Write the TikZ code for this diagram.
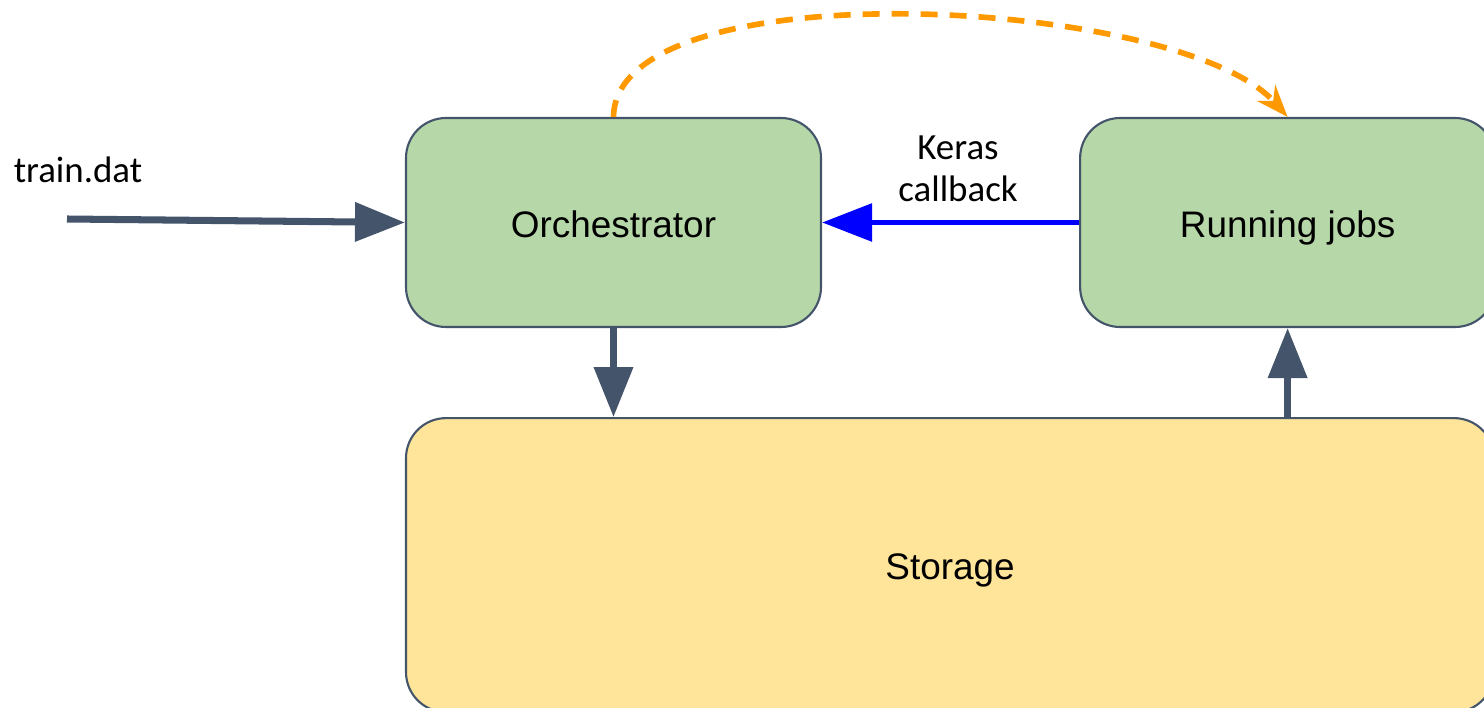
\documentclass[tikz,border=0pt]{standalone}
\usepackage{fontspec}
\setmainfont{Liberation Sans}
\newfontfamily\calfont{Carlito}
\usepackage{tikz}
\usetikzlibrary{arrows.meta,positioning}
\definecolor{slateline}{HTML}{44546A}
\definecolor{boxgreen}{HTML}{B6D7A8}
\definecolor{boxyellow}{HTML}{FFE599}
\definecolor{trigorange}{HTML}{FF9900}
\definecolor{cbblue}{HTML}{0000FF}

\begin{document}
\begin{tikzpicture}[
  every node/.style={align=center, font=\fontsize{10.5}{12}\selectfont},
  box/.style={draw=slateline, line width=0.6pt, rounded corners=0.4cm, fill=boxgreen, minimum width=4.15cm, minimum height=2.09cm, text height=10.6pt, text depth=2.2pt},
  store/.style={box, fill=boxyellow, minimum width=10.88cm, minimum height=2.94cm},
  lbl/.style={font=\calfont\fontsize{10.5}{12}\selectfont},
  flow/.style={draw=slateline, line width=2pt, -{Triangle[length=0.5cm, width=0.38cm]}},
  cb/.style={draw=cbblue, line width=1.7pt, -{Triangle[length=0.5cm, width=0.37cm]}},
  trig/.style={draw=trigorange, line width=1.6pt, dash pattern=on 0.17cm off 0.12cm, -{Stealth[length=0.32cm, width=0.24cm]}}
]
\clip (0,0) rectangle (14.84,7.07);
\node[box] (orch) at (6.135,4.845) {Orchestrator};
\node[box, right=2.57cm of orch] (jobs) {Running jobs};
\node[store, anchor=north west] (st) at ([yshift=-0.89cm]orch.south west) {Storage};

\node[lbl] (data) at (0.78,5.37) {train.dat};
\coordinate (in) at (0.67,4.88);
\draw[flow] (in) -- (orch.west);

\draw[flow] (orch.south) -- (orch.south |- st.north);
\draw[flow] (jobs.south |- st.north) -- (jobs.south);

\node[lbl] (keras) at (9.58,5.38) {Keras\\callback};
\draw[cb] (jobs.west) -- (orch.east);

\draw[trig] (orch.north) .. controls +(0.02,1.5) and +(-1.07,1.2) .. (jobs.north);
\end{tikzpicture}
\end{document}
